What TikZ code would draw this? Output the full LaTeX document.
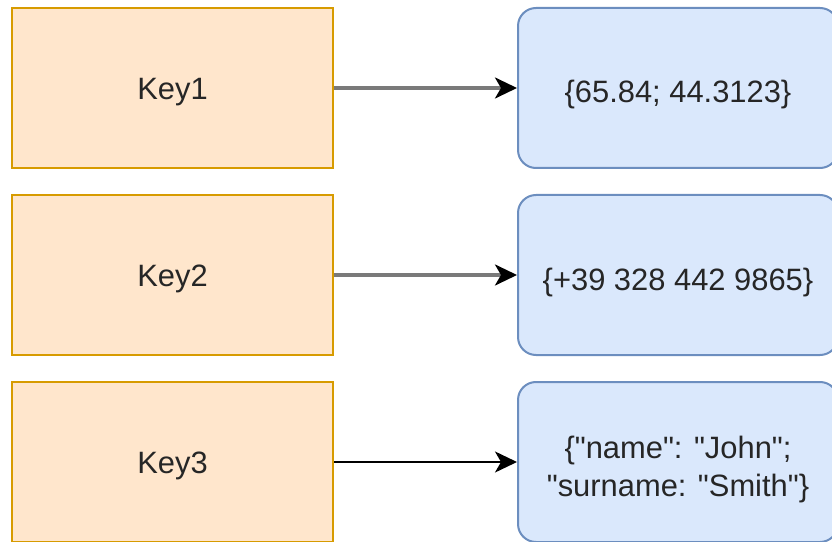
\documentclass[tikz,border=0pt]{standalone}
\usepackage{fontspec}
\setmainfont{Liberation Sans}[Ligatures=TeXOff]
\usetikzlibrary{arrows.meta}
\definecolor{keyfill}{HTML}{FFE6CC}
\definecolor{keyline}{HTML}{D79B00}
\definecolor{valfill}{HTML}{DAE8FC}
\definecolor{valline}{HTML}{6C8EBF}
\tikzset{
  keybox/.style={rectangle, draw=keyline, fill=keyfill, line width=2bp,
    minimum width=321bp, minimum height=160bp, inner sep=0pt,
    text height=23bp, text depth=0pt,
    font=\fontsize{31}{37}\selectfont, text=black!85},
  valbox/.style={rectangle, rounded corners=18bp, draw=valline, fill=valfill, line width=2bp,
    minimum width=320bp, minimum height=160bp, inner sep=0pt, align=center,
    font=\fontsize{31}{38}\selectfont, text=black!85},
  valtext/.style={text height=30bp, text depth=0pt},
  twoline/.style={inner sep=0pt, align=center, yshift=-7.5bp,
    font=\fontsize{31}{38}\selectfont, text=black!85},
  tip/.style={-{Stealth[length=22bp, width=21bp, inset=6bp, black]}},
  softlink/.style={tip, draw=black!52, line width=3.2bp},
  link/.style={tip, draw=black, line width=2bp}
}
\begin{document}
\begin{tikzpicture}[x=1bp, y=-1bp]
  \useasboundingbox (0,0) rectangle (832,542);
  \clip (0,0) rectangle (832,542);
  % keys
  \node[keybox] (k1) at (172.5,88) {Key1};
  \node[keybox] (k2) at (172.5,275) {Key2};
  \node[keybox] (k3) at (172.5,462) {Key3};
  % values
  \node[valbox, valtext] (v1) at (678,88) {\{65.84; 44.3123\}};
  \node[valbox, valtext] (v2) at (678,275) {\{+39 328 442 9865\}};
  \node[valbox, label={[twoline]center:\{"name": "John";\\"surname: "Smith"\}}] (v3) at (678,462) {};
  % key -> value links
  \draw[softlink] (k1) -- (v1);
  \draw[softlink] (k2) -- (v2);
  \draw[link] (k3) -- (v3);
\end{tikzpicture}
\end{document}
